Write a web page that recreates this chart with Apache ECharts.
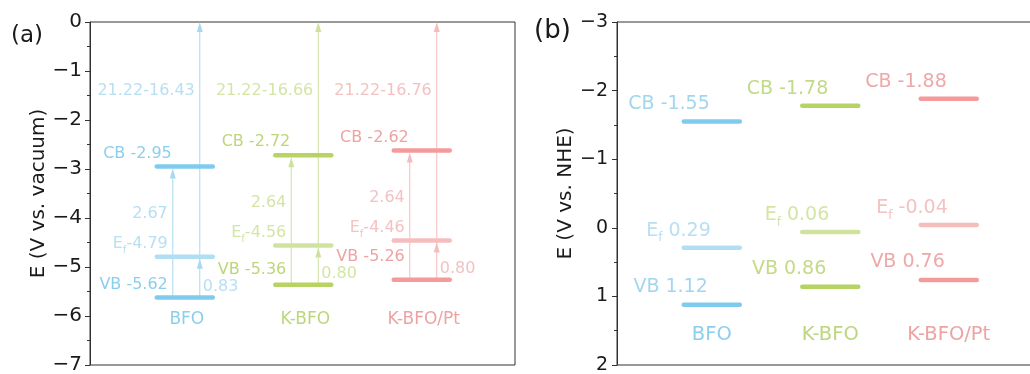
<!DOCTYPE html>
<html>
<head>
<meta charset="utf-8">
<script src="https://cdn.jsdelivr.net/npm/echarts@6/dist/echarts.min.js"></script>
<style>
  html, body { margin: 0; padding: 0; background: #fff; }
  #chart { width: 1030px; height: 374px; }
</style>
</head>
<body>
<div id="chart"></div>
<script>
// Band positions of the three samples
const categories = ['BFO', 'K-BFO', 'K-BFO/Pt'];

// (a) energies vs. vacuum level (eV)
const vacuumCB = [-2.95, -2.72, -2.62];
const vacuumEf = [-4.79, -4.56, -4.46];
const vacuumVB = [-5.62, -5.36, -5.26];
const bandGap = [2.67, 2.64, 2.64];
const efAboveVB = [0.83, 0.80, 0.80];
const workFunctionText = ['21.22-16.43', '21.22-16.66', '21.22-16.76'];
const vacuumRange = [-7, 0];

// (b) potentials vs. NHE (V)
const nheCB = [-1.55, -1.78, -1.88];
const nheEf = [0.29, 0.06, -0.04];
const nheVB = [1.12, 0.86, 0.76];
const nheRange = [-3, 2];

const FONT = '"DejaVu Sans", "Liberation Sans", sans-serif';
const AXIS_COLOR = '#333';
const TEXT_COLOR = '#1a1a1a';

const palette = [
  { bar: '#7fcbee', barLight: '#b1def3', text: '#8ccfec', textLight: '#b8e0f2', arrow: '#a9d9f0', textR: '#a3d6ee' },
  { bar: '#b6d363', barLight: '#d0e39e', text: '#bcd67c', textLight: '#d4e5a6', arrow: '#cfe19f', textR: '#c3da88' },
  { bar: '#f49a9a', barLight: '#f6bdbd', text: '#eea3a3', textLight: '#f4c2c2', arrow: '#f5bcbc', textR: '#eea8a8' }
];

const fmt = v => (v < 0 ? '\u2212' + Math.abs(v) : String(v));
const fix2 = v => v.toFixed(2);

// drawing helpers for the custom series
function levelBar(cx, y, color) {
  return {
    type: 'line',
    shape: { x1: cx - 28, y1: y, x2: cx + 28, y2: y },
    style: { stroke: color, lineWidth: 4.5, lineCap: 'round' },
    z2: 10
  };
}
function stem(x, y1, y2, color) {
  return { type: 'line', shape: { x1: x, y1: y1, x2: x, y2: y2 }, style: { stroke: color, lineWidth: 1 }, z2: 2 };
}
function head(x, tip, color) {
  return {
    type: 'polygon',
    shape: { points: [[x, tip], [x - 3, tip + 10], [x + 3, tip + 10]] },
    style: { fill: color },
    z2: 3
  };
}
function label(x, y, text, color, size, align, rich) {
  const style = {
    text: text, fill: color, fontSize: size, fontFamily: FONT,
    align: align, verticalAlign: 'middle'
  };
  if (rich) style.rich = rich;
  return { type: 'text', x: x, y: y, style: style, z2: 20 };
}
// "E_f value" with a subscript f
function fermiLabel(x, y, value, color, size, subSize, spaced) {
  const v = (spaced || value >= 0 ? ' ' : '') + fix2(value);
  const text = '{e|E}{s|f}{e|' + v + '}';
  return label(x, y, text, color, size, 'right', {
    e: { fill: color, fontSize: size, fontFamily: FONT, lineHeight: size + 8, verticalAlign: 'middle' },
    s: { fill: color, fontSize: subSize, fontFamily: FONT, lineHeight: subSize, verticalAlign: 'bottom' }
  });
}

function renderVacuum(params, api) {
  const i = params.dataIndex;
  const c = palette[i];
  const slot = api.value(0) + 0.8;
  const pCB = api.coord([slot, api.value(1)]);
  const cx = pCB[0], yCB = pCB[1];
  const yEf = api.coord([slot, api.value(2)])[1];
  const yVB = api.coord([slot, api.value(3)])[1];
  const yTop = api.coord([slot, vacuumRange[1]])[1];
  const yWork = api.coord([slot, -1.4])[1];
  const yName = api.coord([slot, -6.08])[1];
  const a1 = cx - 12, a2 = cx + 15;
  const vbLift = [13, 15, 23][i];
  return {
    type: 'group',
    children: [
      stem(a1, yVB, yCB + 10, c.arrow),
      head(a1, yCB + 2, c.arrow),
      stem(a2, yVB, yTop + 8, c.arrow),
      head(a2, yEf + 2, c.arrow),
      head(a2, yTop, c.arrow),
      levelBar(cx, yCB, c.bar),
      levelBar(cx, yEf, c.barLight),
      levelBar(cx, yVB, c.bar),
      label(a2 - 5, yWork, workFunctionText[i], c.textLight, 16, 'right'),
      label(a1 - 1, yCB - 13, 'CB ' + fix2(api.value(1)), c.text, 16, 'right'),
      label(a1 - 5, yEf - 43, fix2(bandGap[i]), c.textLight, 16, 'right'),
      fermiLabel(a1 - 5, yEf - 13, api.value(2), c.textLight, 16, 10, false),
      label(a1 - 5, yVB - vbLift, 'VB ' + fix2(api.value(3)), c.text, 16, 'right'),
      label(a2 + 3, yVB - 11, fix2(efAboveVB[i]), c.textLight, 16, 'left'),
      label(cx + 2, yName, categories[i], c.text, 17, 'center')
    ]
  };
}

function renderNHE(params, api) {
  const i = params.dataIndex;
  const c = palette[i];
  const slot = api.value(0) + 0.8;
  const pCB = api.coord([slot, api.value(1)]);
  const cx = pCB[0], yCB = pCB[1];
  const yEf = api.coord([slot, api.value(2)])[1];
  const yVB = api.coord([slot, api.value(3)])[1];
  const yName = api.coord([slot, 1.56])[1];
  const cb = api.value(1), ef = api.value(2), vb = api.value(3);
  return {
    type: 'group',
    children: [
      levelBar(cx, yCB, c.bar),
      levelBar(cx, yEf, c.barLight),
      levelBar(cx, yVB, c.bar),
      label(cx - 2, yCB - 17, 'CB ' + fix2(cb), c.textR, 19, 'right'),
      fermiLabel(cx - 1, yEf - 17, ef, c.textLight, 19, 12, true),
      label(cx - 4, yVB - 18, 'VB ' + fix2(vb), c.textR, 19, 'right'),
      label(cx, yName, categories[i], c.text, 19.5, 'center')
    ]
  };
}

function valueAxis(gridIndex, range, name, gap, inverse, margin, labelSize) {
  return {
    gridIndex: gridIndex, type: 'value', min: range[0], max: range[1], interval: 1,
    inverse: inverse,
    axisLine: { show: true, onZero: false, lineStyle: { color: AXIS_COLOR, width: 1 } },
    axisTick: { show: true, inside: false, length: 5, lineStyle: { color: AXIS_COLOR, width: 1 } },
    minorTick: { show: true, splitNumber: 2, length: 3, lineStyle: { color: AXIS_COLOR, width: 1 } },
    splitLine: { show: false },
    axisLabel: { color: TEXT_COLOR, fontSize: labelSize, fontFamily: FONT, margin: margin, formatter: fmt },
    name: name, nameLocation: 'middle', nameGap: gap,
    nameTextStyle: { color: TEXT_COLOR, fontSize: 20, fontFamily: FONT }
  };
}

const chart = echarts.init(document.getElementById('chart'), null, { renderer: 'canvas' });
chart.setOption({
  animation: false,
  backgroundColor: '#fff',
  grid: [
    { left: 90, top: 22, width: 425, height: 343, show: true, borderColor: AXIS_COLOR, borderWidth: 1, backgroundColor: 'transparent', outerBoundsMode: 'none' },
    { left: 617, top: 22, width: 425, height: 343, show: true, borderColor: AXIS_COLOR, borderWidth: 1, backgroundColor: 'transparent', outerBoundsMode: 'none' }
  ],
  xAxis: [
    { gridIndex: 0, type: 'value', min: 0, max: 3.587, show: false },
    { gridIndex: 1, type: 'value', min: 0, max: 3.587, show: false }
  ],
  yAxis: [
    valueAxis(0, vacuumRange, 'E (V vs. vacuum)', 37, false, 8, 20),
    valueAxis(1, nheRange, 'E (V vs. NHE)', 39, true, 9, 19)
  ],
  graphic: [
    { type: 'text', left: 11, top: 25, style: { text: '(a)', fontSize: 23, fontFamily: FONT, fill: TEXT_COLOR } },
    { type: 'text', left: 534, top: 18, style: { text: '(b)', fontSize: 26, fontFamily: FONT, fill: TEXT_COLOR } }
  ],
  series: [
    {
      type: 'custom', xAxisIndex: 0, yAxisIndex: 0, clip: false,
      renderItem: renderVacuum,
      data: categories.map((c, i) => [i, vacuumCB[i], vacuumEf[i], vacuumVB[i]])
    },
    {
      type: 'custom', xAxisIndex: 1, yAxisIndex: 1, clip: false,
      renderItem: renderNHE,
      data: categories.map((c, i) => [i, nheCB[i], nheEf[i], nheVB[i]])
    }
  ]
});
</script>
</body>
</html>
